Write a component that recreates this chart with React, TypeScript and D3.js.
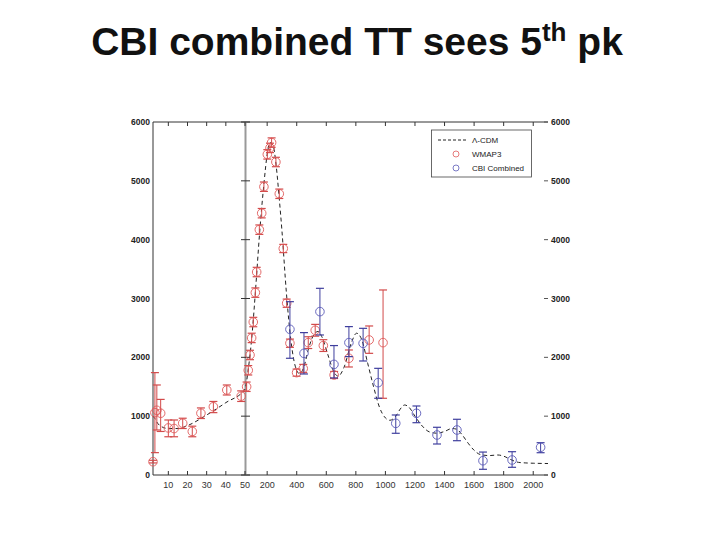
import React from 'react';
import * as d3 from 'd3';

// multipole l, band power l(l+1)C_l/2pi (uK^2)
const wmapL = [2, 3, 4, 6, 10, 13, 17.5, 22.5, 27, 33.5, 40.5, 48, 61, 72, 84, 95, 106, 120, 129, 147, 163, 178, 201, 219, 230, 259, 282, 309, 332, 354, 399, 444, 478, 525, 580, 653, 753, 890, 984];
const wmapD = [226, 1060, 1100, 1050, 800, 790, 880, 740, 1050, 1160, 1445, 1340, 1500, 1780, 2040, 2330, 2600, 3100, 3450, 4170, 4450, 4900, 5450, 5560, 5650, 5320, 4780, 3850, 2920, 2240, 1740, 1810, 2250, 2460, 2200, 1700, 1984, 2295, 2250];
const wmapLo = [205, 380, 765, 740, 650, 650, 790, 650, 960, 1060, 1360, 1250, 1420, 1700, 1960, 2250, 2520, 3020, 3370, 4090, 4370, 4820, 5370, 5480, 5570, 5240, 4700, 3780, 2850, 2170, 1680, 1740, 2150, 2360, 2100, 1640, 1836, 2068, 1304];
const wmapHi = [250, 1740, 1530, 1285, 935, 935, 965, 830, 1140, 1250, 1530, 1430, 1580, 1860, 2120, 2410, 2680, 3180, 3530, 4250, 4530, 4980, 5530, 5640, 5730, 5400, 4860, 3920, 2990, 2310, 1800, 1880, 2350, 2560, 2300, 1760, 2125, 2533, 3145];

const cbiL = [354, 449, 557, 652, 753, 849, 951, 1070, 1210, 1349, 1484, 1660, 1857, 2050];
const cbiD = [2476, 2068, 2777, 1880, 2250, 2238, 1570, 878, 1049, 680, 765, 243, 255, 471];
const cbiLo = [1984, 1717, 2380, 1650, 2012, 1938, 1304, 709, 889, 527, 583, 97, 131, 379];
const cbiHi = [2946, 2420, 3173, 2200, 2522, 2493, 1813, 1020, 1173, 811, 947, 390, 396, 549];

const lcdmL = [2, 3, 4, 6, 10, 15, 20, 30, 40, 50, 70, 100, 120, 150, 180, 200, 220, 240, 260, 280, 300, 330, 360, 390, 420, 450, 480, 520, 545, 570, 610, 650, 680, 720, 770, 805, 840, 880, 920, 960, 1000, 1030, 1070, 1100, 1130, 1160, 1200, 1250, 1300, 1350, 1400, 1450, 1480, 1520, 1560, 1600, 1640, 1700, 1760, 1800, 1850, 1900, 1950, 2000, 2100];
const lcdmD = [1000, 960, 900, 830, 790, 790, 840, 1020, 1230, 1460, 1760, 2450, 3100, 4150, 5000, 5450, 5650, 5600, 5280, 4750, 4150, 3100, 2300, 1850, 1720, 1850, 2150, 2400, 2440, 2350, 2050, 1760, 1680, 1830, 2250, 2410, 2300, 1900, 1500, 1150, 970, 930, 1000, 1120, 1190, 1150, 1000, 830, 730, 710, 740, 790, 780, 680, 540, 420, 350, 330, 340, 320, 260, 215, 205, 200, 195];

const lowTicks = [10, 20, 30, 40, 50];
const highTicks = [200, 400, 600, 800, 1000, 1200, 1400, 1600, 1800, 2000];
const yTicks = [0, 1000, 2000, 3000, 4000, 5000, 6000];

const RED = '#e05a5a';
const RED_BAR = '#d24a4a';
const BLUE = '#5a5ab8';
const BLUE_BAR = '#3f3f9e';
const FONT = "'Liberation Sans', Arial, sans-serif";

const xLow = d3.scaleLinear().domain([2, 50]).range([153, 245]);
const xHigh = d3.scaleLinear().domain([50, 2100]).range([245, 548]);
const xOf = (l: number) => (l <= 50 ? xLow(l) : xHigh(l));
const y = d3.scaleLinear().domain([0, 6000]).range([475, 122]);

const Points: React.FC<{ ls: number[]; ds: number[]; lo: number[]; hi: number[]; color: string; bar: string }> = ({ ls, ds, lo, hi, color, bar }) => (
  <g>
    {ls.map((l, i) => {
      const cx = xOf(l);
      return (
        <g key={i}>
          <line x1={cx} x2={cx} y1={y(lo[i])} y2={y(hi[i])} stroke={bar} strokeWidth={1} />
          <line x1={cx - 4} x2={cx + 4} y1={y(lo[i])} y2={y(lo[i])} stroke={bar} strokeWidth={1.2} />
          <line x1={cx - 4} x2={cx + 4} y1={y(hi[i])} y2={y(hi[i])} stroke={bar} strokeWidth={1.2} />
          <circle cx={cx} cy={y(ds[i])} r={4.3} fill="none" stroke={color} strokeWidth={0.9} />
        </g>
      );
    })}
  </g>
);

export default function App() {
  const curve = d3
    .line<number>()
    .x((l) => xOf(l))
    .y((_, i) => y(lcdmD[i]))
    .curve(d3.curveMonotoneX)(lcdmL) || '';

  return (
    <svg width={720} height={540} style={{ position: 'absolute', left: 0, top: 0, background: '#fff' }} fontFamily={FONT}>
      <text x={357} y={55} textAnchor="middle" fontSize={39} fontWeight="bold" fill="#111">
        CBI combined TT sees 5
        <tspan fontSize={26} dy={-14}>th</tspan>
        <tspan dy={14}> pk</tspan>
      </text>

      {/* frame */}
      <line x1={153} x2={153} y1={122} y2={475} stroke="#333" strokeWidth={1} />
      <line x1={153} x2={548} y1={122} y2={122} stroke="#333" strokeWidth={1} />
      <line x1={153} x2={548} y1={475} y2={475} stroke="#333" strokeWidth={1} />
      <line x1={245.5} x2={245.5} y1={122} y2={475} stroke="#999" strokeWidth={2} />

      {/* x ticks */}
      {lowTicks.map((t) => (
        <g key={'l' + t}>
          <line x1={xLow(t)} x2={xLow(t)} y1={122} y2={126} stroke="#333" />
          <line x1={xLow(t)} x2={xLow(t)} y1={475} y2={471} stroke="#333" />
          <text x={xLow(t)} y={488} textAnchor="middle" fontSize={9} fill="#333">{t}</text>
        </g>
      ))}
      {highTicks.map((t) => (
        <g key={'h' + t}>
          <line x1={xHigh(t)} x2={xHigh(t)} y1={122} y2={126} stroke="#333" />
          <line x1={xHigh(t)} x2={xHigh(t)} y1={475} y2={471} stroke="#333" />
          <text x={xHigh(t)} y={488} textAnchor="middle" fontSize={9} fill="#333">{t}</text>
        </g>
      ))}

      {/* y ticks */}
      {yTicks.map((t) => (
        <g key={'y' + t}>
          <text x={150} y={y(t) + 3} textAnchor="end" fontSize={8.5} fontWeight="bold" fill="#222">{t}</text>
          <line x1={241} x2={250} y1={y(t)} y2={y(t)} stroke="#333" />
          <line x1={544} x2={548} y1={y(t)} y2={y(t)} stroke="#555" />
          <text x={551} y={y(t) + 3} textAnchor="start" fontSize={8.5} fontWeight="bold" fill="#222">{t}</text>
        </g>
      ))}

      <path d={curve} fill="none" stroke="#222" strokeWidth={1} strokeDasharray="4,3" />

      <Points ls={wmapL} ds={wmapD} lo={wmapLo} hi={wmapHi} color={RED} bar={RED_BAR} />
      <Points ls={cbiL} ds={cbiD} lo={cbiLo} hi={cbiHi} color={BLUE} bar={BLUE_BAR} />

      {/* legend */}
      <g>
        <rect x={431.5} y={130} width={100} height={47} fill="#fff" stroke="#444" strokeWidth={0.8} />
        <line x1={438} x2={467} y1={140} y2={140} stroke="#222" strokeDasharray="3,2" />
        <text x={472} y={143} fontSize={8} fill="#222">Λ-CDM</text>
        <circle cx={456} cy={154} r={3} fill="none" stroke={RED} strokeWidth={0.8} />
        <text x={472} y={157} fontSize={8} fill="#222">WMAP3</text>
        <circle cx={456} cy={168} r={3} fill="none" stroke={BLUE} strokeWidth={0.8} />
        <text x={472} y={171} fontSize={8} fill="#222">CBI Combined</text>
      </g>
    </svg>
  );
}
